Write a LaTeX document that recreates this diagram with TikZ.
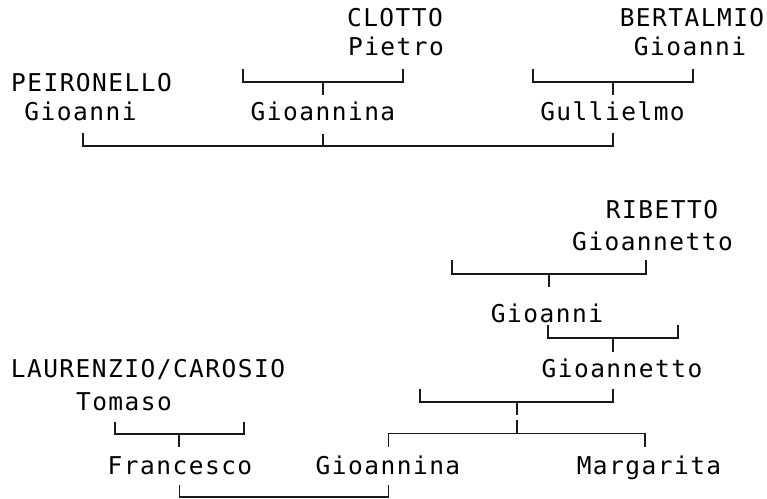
\documentclass[tikz,border=0pt]{standalone}
\usepackage{fontspec}
\newfontfamily\famfont[LetterSpace=6]{DejaVu Sans Mono}
\usetikzlibrary{positioning}

\begin{document}
\begin{tikzpicture}[
        x=1pt, y=-1pt,
        person/.style={font=\famfont\fontsize{24.5}{29}\selectfont, anchor=base, inner sep=0pt},
        link/.style={line width=1.6pt, draw=black!90},
    ]
        \useasboundingbox (0,0) rectangle (767,498);
        % First family
        \node[person] (clotto) at (395,26.7) {CLOTTO};
        \node[person] (pietro) at (396,55) {Pietro};
        \node[person] (bertalmio) at (692,26.7) {BERTALMIO};
        \node[person] (gioanniB) at (690,55) {Gioanni};
        \node[person] (peironello) at (91.5,91.7) {PEIRONELLO};
        \node[person] (gioanniP) at (80.5,120) {Gioanni};
        \node[person] (gioanninaC) at (323,120) {Gioannina};
        \node[person] (gullielmo) at (612.5,120) {Gullielmo};
        % Second family
        \node[person] (ribetto) at (662,218.3) {RIBETTO};
        \node[person] (gioannettoR) at (652.5,250) {Gioannetto};
        \node[person] (gioanniR) at (547,322.5) {Gioanni};
        \node[person] (gioannettoL) at (622,377) {Gioannetto};
        \node[person] (laurenzio) at (148,377) {LAURENZIO/CAROSIO};
        \node[person] (tomaso) at (124,410) {Tomaso};
        \node[person] (francesco) at (180,474) {Francesco};
        \node[person] (gioanninaL) at (388,474) {Gioannina};
        \node[person] (margarita) at (649,474) {Margarita};

        % Bracket ends and joints
        \coordinate (clA) at (243,69);   \coordinate (clB) at (403,69);
        \coordinate (clBar) at (323,82); \coordinate (clM) at (323,95);
        \coordinate (beA) at (533,69);   \coordinate (beB) at (693,69);
        \coordinate (beBar) at (613,82); \coordinate (beM) at (613,95);
        \coordinate (peA) at (83,133);   \coordinate (peB) at (613,133);
        \coordinate (peBar) at (323,146); \coordinate (peM) at (323,134);
        \coordinate (riA) at (452,260);  \coordinate (riB) at (646,260);
        \coordinate (riBar) at (549,274); \coordinate (riM) at (549,286.5);
        \coordinate (goA) at (548,325);  \coordinate (goB) at (678,325);
        \coordinate (goBar) at (613,338); \coordinate (goM) at (613,351.5);
        \coordinate (gtA) at (420,388.5); \coordinate (gtB) at (613,388.5);
        \coordinate (gtBar) at (517,402); \coordinate (gtM) at (517,415);
        \coordinate (chA) at (388.3,446.7); \coordinate (chB) at (645,446.7);
        \coordinate (chBar) at (517,433.3); \coordinate (chM) at (517,420);
        \coordinate (toA) at (115,421.5); \coordinate (toB) at (244,421.5);
        \coordinate (toBar) at (179,434); \coordinate (toM) at (179,446.7);
        \coordinate (frA) at (179.3,485); \coordinate (frB) at (388.3,485);
        \coordinate (frBar) at (280,497);

        \draw[link] (clA) |- (clBar) -| (clB);
        \draw[link] (clBar) -- (clM);
        \draw[link] (beA) |- (beBar) -| (beB);
        \draw[link] (beBar) -- (beM);
        \draw[link] (peA) |- (peBar) -| (peB);
        \draw[link] (peBar) -- (peM);
        \draw[link] (riA) |- (riBar) -| (riB);
        \draw[link] (riBar) -- (riM);
        \draw[link] (goA) |- (goBar) -| (goB);
        \draw[link] (goBar) -- (goM);
        \draw[link] (gtA) |- (gtBar) -| (gtB);
        \draw[link] (gtBar) -- (gtM);
        \draw[link] (chA) |- (chBar) -| (chB);
        \draw[link] (chBar) -- (chM);
        \draw[link] (toA) |- (toBar) -| (toB);
        \draw[link] (toBar) -- (toM);
        \draw[link] (frA) |- (frBar) -| (frB);
    \end{tikzpicture}
\end{document}
